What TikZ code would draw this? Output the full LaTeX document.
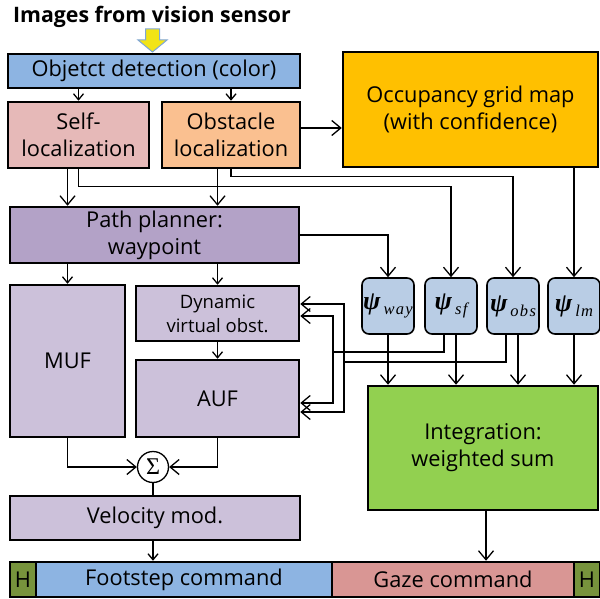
\documentclass[tikz,border=0pt]{standalone}
\usepackage{fontspec}
\setmainfont{Open Sans}
\newfontfamily\psifont{Liberation Serif}
\newfontfamily\subfont[LetterSpace=8]{Liberation Serif}
\usetikzlibrary{arrows.meta,calc}
\definecolor{odblue}{HTML}{8DB4E2}
\definecolor{selfpink}{HTML}{E6B9B8}
\definecolor{obstorange}{HTML}{FAC090}
\definecolor{occyellow}{HTML}{FFC000}
\definecolor{pppurple}{HTML}{B3A2C7}
\definecolor{lightpurple}{HTML}{CCC1DA}
\definecolor{psiblue}{HTML}{B9CDE5}
\definecolor{intgreen}{HTML}{92D050}
\definecolor{gazered}{HTML}{D99694}
\definecolor{hgreen}{HTML}{77933C}
\definecolor{arrowyellow}{HTML}{F2E416}
\definecolor{arrowedge}{HTML}{7FA6D6}
\newcommand\psilabel[1]{{\psifont\bfseries\itshape\fontsize{26}{26}\selectfont ψ}\kern3pt\raisebox{-5pt}{\subfont\itshape\fontsize{16.5}{16.5}\selectfont #1}}
\tikzset{
  box/.style={draw=black, line width=2.5pt, inner sep=2pt, align=center,
    font=\fontsize{21.8}{27}\selectfont},
  psibox/.style={draw=black, line width=1.6pt, rounded corners=7pt, fill=psiblue,
    minimum width=52pt, minimum height=56pt, inner sep=0pt},
  arr/.style={line width=1.3pt, -{Straight Barb[length=9pt,width=15pt,line width=1.3pt]}},
  sarr/.style={line width=1.3pt, -{Straight Barb[length=6pt,width=10pt,line width=1.3pt]}},
  plain/.style={line width=1.3pt}
}
\begin{document}
\begin{tikzpicture}[x=1pt,y=-1pt]
\useasboundingbox (0,0) rectangle (600,599);
\fill[white] (0,0) rectangle (600,599);

% title
\node[font=\fontsize{21.3}{25}\selectfont\bfseries, anchor=center] (title) at (152,17) {Images from vision sensor};

% yellow block arrow
\draw[draw=arrowedge, fill=arrowyellow, line width=1pt, line join=miter]
  (145.5,29) -- (159.5,29) -- (159.5,40) -- (167,40) -- (152.5,52) -- (138,40) -- (145.5,40) -- cycle;

% boxes
\node[box, fill=odblue, minimum width=292pt, minimum height=34pt] (od) at (154,71) {Objetct detection (color)};
\node[box, fill=selfpink, minimum width=141pt, minimum height=66pt] (self) at (78.5,135) {Self-\\localization};
\node[box, fill=obstorange, minimum width=138pt, minimum height=66pt] (obst) at (231,135) {Obstacle\\localization};
\node[box, fill=occyellow, minimum width=255pt, minimum height=115pt] (occ) at (470.5,109.5) {Occupancy grid map\\(with confidence)};
\node[box, fill=pppurple, minimum width=289pt, minimum height=56pt] (pp) at (154.5,235) {Path planner:\\waypoint};
\node[box, fill=lightpurple, minimum width=115pt, minimum height=152pt] (muf) at (67.5,361) {MUF};
\node[box, fill=lightpurple, minimum width=163pt, minimum height=55pt, font=\fontsize{18.5}{24}\selectfont] (dyn) at (217.5,313.5) {Dynamic\\virtual obst.};
\node[box, fill=lightpurple, minimum width=163pt, minimum height=77pt] (auf) at (217.5,398.5) {AUF};
\node[draw=black, line width=1.3pt, circle, fill=white, minimum size=31pt, inner sep=0pt, font=\psifont\fontsize{24}{26}\selectfont] (sig) at (153,467) {Σ};
\node[box, fill=lightpurple, minimum width=290pt, minimum height=44pt] (vel) at (155,518) {Velocity mod.};
\node[box, fill=intgreen, minimum width=230pt, minimum height=124pt] (integ) at (483,448) {Integration:\\weighted sum};

% psi boxes
\node[psibox] (pway) at (388,306) {\psilabel{way}};
\node[psibox] (psf) at (451,306) {\psilabel{sf}};
\node[psibox] (pobs) at (513,306) {\psilabel{obs}};
\node[psibox] (plm) at (574,306) {\psilabel{lm}};

% bottom bar
\node[box, fill=hgreen, minimum width=26pt, minimum height=35pt, inner sep=0pt] (h1) at (23,579.5) {H};
\node[box, fill=odblue, minimum width=296pt, minimum height=35pt] (foot) at (184,579.5) {Footstep command};
\node[box, fill=gazered, minimum width=242pt, minimum height=35pt] (gaze) at (453,579.5) {Gaze command};
\node[box, fill=hgreen, minimum width=26pt, minimum height=35pt, inner sep=0pt] (h2) at (587,579.5) {H};

% connectors
\draw[sarr] (od.south -| self.north) -- (self.north);
\draw[sarr] (od.south -| obst.north) -- (obst.north);
\draw[arr] (self.south -| muf.north) -- (pp.north -| muf.north);
\draw[arr] (obst.south -| dyn.north) -- (pp.north -| dyn.north);
\draw[arr] ([yshift=7pt]obst.east) -- ([yshift=7pt]obst.east -| occ.west);
\draw[sarr] (pp.south -| muf.north) -- (muf.north);
\draw[sarr] (pp.south -| dyn.north) -- (dyn.north);
\draw[sarr] (dyn.south) -- (auf.north);

\draw[arr] (pp.east) -| (pway.north);
\draw[arr] (self.south) -- ++(0,17) -| (psf.north);
\draw[arr] (obst.south) -- ++(0,7) -| (pobs.north);
\draw[arr] (occ.south -| plm.north) -- (plm.north);

\draw[arr] (pway.south) -- (pway.south |- integ.north);
\draw[arr] ([xshift=5pt]psf.south) -- ([xshift=5pt]psf.south |- integ.north);
\draw[arr] ([xshift=5pt]pobs.south) -- ([xshift=5pt]pobs.south |- integ.north);
\draw[arr] (plm.south) -- (plm.south |- integ.north);

% feedback lines
\coordinate (c1) at (333,352);
\coordinate (c2) at (344,362);
\draw[arr] ([xshift=-7pt]psf.south) |- (c1) |- ([yshift=-2.5pt]dyn.east);
\draw[arr] (c1) |- ([yshift=-4.5pt]auf.east);
\draw[arr] ([xshift=-7pt]pobs.south) |- (c2) |- ([yshift=9.5pt]dyn.east);
\draw[arr] (c2) |- ([yshift=-13.5pt]auf.east);

% sum
\draw[arr] (muf.south) |- (sig.west);
\draw[arr] (auf.south) |- (sig.east);
\draw[plain] (sig.south) -- (sig.south |- vel.north);
\draw[sarr] (vel.south -| sig.south) -- (foot.north -| sig.south);
\draw[arr] ([xshift=3pt]integ.south) -- ([xshift=3pt]integ.south |- gaze.north);
\end{tikzpicture}
\end{document}
